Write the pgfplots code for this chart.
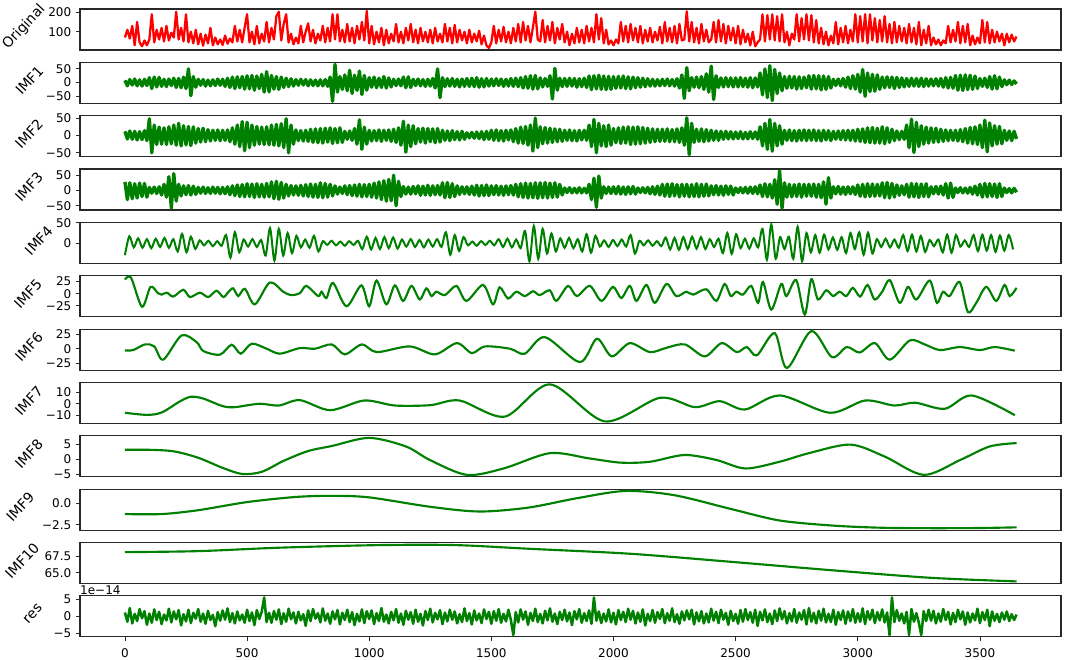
\documentclass[border=0pt]{standalone}
\usepackage{pgfplots}
\pgfplotsset{compat=1.18}
\usepgfplotslibrary{groupplots}
\usepackage{fontspec}
\setmainfont{DejaVu Sans}
\definecolor{mplgreen}{RGB}{0,128,0}
\definecolor{spine}{RGB}{40,40,40}

\pgfplotsset{
  imf/.style={mplgreen, line width=1.6pt, no markers, smooth},
  noisy/.style={mplgreen, line width=2.5pt, no markers, line join=round},
  lab/.style={ylabel style={at={(axis description cs:#1,0.56)}, anchor=center, rotate=-43,
      font=\fontsize{10.5}{12}\selectfont}},
}

\begin{document}
\begin{tikzpicture}
\begin{groupplot}[
  group style={group size=1 by 12, vertical sep=9.27pt},
  width=736pt, height=30.75pt, scale only axis,
  xmin=-184, xmax=3832,
  xtick=\empty,
  axis line style={spine, line width=0.8pt},
  tick align=outside, ytick pos=left, xtick pos=bottom,
  major tick length=3pt,
  tick style={spine, line width=0.6pt},
  every tick label/.append style={font=\fontsize{9}{10}\selectfont},
  xticklabel style={yshift=-2pt},
]

% Original
\nextgroupplot[ymin=6, ymax=217, ytick={100,200}, yticklabels={100,200}, ylabel={Original}, lab=-0.057]
\addplot[red, line width=1.7pt, no markers, line join=round] table[x expr=\coordindex*10, y index=0, row sep=\\, header=false] {
70\\ 110\\ 65\\ 130\\ 30\\ 150\\ 45\\ 25\\ 55\\ 30\\
60\\ 190\\ 45\\ 110\\ 60\\ 120\\ 50\\ 130\\ 55\\ 95\\
70\\ 203\\ 60\\ 120\\ 50\\ 190\\ 45\\ 100\\ 40\\ 110\\
35\\ 90\\ 28\\ 85\\ 40\\ 120\\ 30\\ 70\\ 35\\ 60\\
32\\ 80\\ 38\\ 65\\ 45\\ 130\\ 50\\ 110\\ 45\\ 120\\
190\\ 45\\ 100\\ 35\\ 130\\ 40\\ 90\\ 50\\ 150\\ 45\\
120\\ 60\\ 180\\ 203\\ 55\\ 140\\ 190\\ 45\\ 90\\ 35\\
70\\ 40\\ 130\\ 45\\ 100\\ 143\\ 50\\ 110\\ 40\\ 90\\
55\\ 130\\ 45\\ 120\\ 50\\ 190\\ 60\\ 190\\ 50\\ 110\\
45\\ 140\\ 50\\ 120\\ 40\\ 130\\ 60\\ 150\\ 55\\ 207\\
40\\ 130\\ 35\\ 100\\ 45\\ 120\\ 30\\ 110\\ 40\\ 90\\
50\\ 140\\ 45\\ 100\\ 40\\ 120\\ 55\\ 140\\ 45\\ 110\\
40\\ 120\\ 50\\ 100\\ 45\\ 110\\ 40\\ 120\\ 50\\ 90\\
45\\ 140\\ 50\\ 120\\ 40\\ 135\\ 45\\ 110\\ 55\\ 100\\
40\\ 110\\ 45\\ 90\\ 50\\ 105\\ 35\\ 80\\ 30\\ 16\\
45\\ 130\\ 40\\ 110\\ 50\\ 125\\ 45\\ 100\\ 40\\ 120\\
50\\ 140\\ 45\\ 150\\ 55\\ 130\\ 45\\ 120\\ 203\\ 60\\
50\\ 160\\ 45\\ 130\\ 55\\ 150\\ 40\\ 120\\ 60\\ 140\\
45\\ 100\\ 30\\ 90\\ 40\\ 120\\ 45\\ 110\\ 40\\ 130\\
50\\ 120\\ 45\\ 190\\ 60\\ 170\\ 40\\ 110\\ 35\\ 55\\
30\\ 60\\ 40\\ 150\\ 50\\ 130\\ 45\\ 140\\ 55\\ 120\\
45\\ 130\\ 40\\ 110\\ 50\\ 120\\ 45\\ 100\\ 55\\ 125\\
40\\ 150\\ 50\\ 120\\ 45\\ 130\\ 40\\ 140\\ 55\\ 60\\
205\\ 50\\ 150\\ 45\\ 120\\ 40\\ 140\\ 50\\ 110\\ 45\\
60\\ 150\\ 45\\ 160\\ 50\\ 140\\ 40\\ 130\\ 55\\ 120\\
40\\ 130\\ 35\\ 110\\ 45\\ 90\\ 30\\ 100\\ 25\\ 45\\
60\\ 190\\ 50\\ 185\\ 60\\ 190\\ 55\\ 180\\ 50\\ 190\\
45\\ 100\\ 30\\ 90\\ 60\\ 190\\ 50\\ 170\\ 60\\ 190\\
55\\ 185\\ 45\\ 160\\ 40\\ 120\\ 35\\ 100\\ 30\\ 80\\
40\\ 150\\ 35\\ 120\\ 45\\ 130\\ 40\\ 110\\ 50\\ 190\\
45\\ 180\\ 50\\ 190\\ 40\\ 190\\ 55\\ 170\\ 45\\ 160\\
50\\ 180\\ 45\\ 140\\ 40\\ 150\\ 45\\ 130\\ 50\\ 120\\
40\\ 140\\ 45\\ 120\\ 35\\ 150\\ 30\\ 110\\ 40\\ 130\\
30\\ 70\\ 35\\ 60\\ 30\\ 55\\ 40\\ 130\\ 45\\ 110\\
50\\ 150\\ 40\\ 130\\ 45\\ 140\\ 30\\ 80\\ 35\\ 70\\
40\\ 160\\ 45\\ 150\\ 40\\ 110\\ 45\\ 100\\ 50\\ 90\\
30\\ 90\\ 45\\ 85\\ 50\\ 75\\
};

% IMF1
\nextgroupplot[ymin=-76, ymax=74, ytick={-50,0,50}, yticklabels={−50,0,50}, ylabel={IMF1}, lab=-0.0516]
\addplot[noisy] table[x expr=\coordindex*10, y index=0, row sep=\\, header=false] {
8\\ -12\\ 11\\ -9\\ 13\\ -12\\ 10\\ -13\\ 12\\ -11\\
18\\ -22\\ 20\\ -16\\ 19\\ -14\\ 12\\ -15\\ 13\\ -11\\
16\\ -18\\ 15\\ -19\\ 20\\ -22\\ 50\\ -48\\ 22\\ -17\\
12\\ -10\\ 11\\ -13\\ 9\\ -12\\ 10\\ -11\\ 13\\ -10\\
12\\ -14\\ 16\\ -18\\ 20\\ -22\\ 21\\ -19\\ 22\\ -24\\
25\\ -23\\ 26\\ -28\\ 24\\ -22\\ 30\\ -35\\ 40\\ -34\\
26\\ -24\\ 22\\ -25\\ 20\\ -18\\ 16\\ -15\\ 14\\ -13\\
11\\ -10\\ 12\\ -9\\ 11\\ -12\\ 10\\ -11\\ 9\\ -12\\
10\\ -12\\ 11\\ -14\\ 20\\ -69\\ 67\\ -35\\ 22\\ -25\\
28\\ -30\\ 45\\ -40\\ 27\\ -29\\ 42\\ -44\\ 26\\ -28\\
18\\ -17\\ 20\\ -19\\ 16\\ -18\\ 22\\ -20\\ 17\\ -16\\
12\\ -11\\ 13\\ -12\\ 20\\ -19\\ 21\\ -18\\ 12\\ -11\\
13\\ -12\\ 11\\ -14\\ 12\\ -13\\ 15\\ -20\\ 50\\ -55\\
18\\ -15\\ 14\\ -13\\ 15\\ -14\\ 12\\ -16\\ 13\\ -14\\
15\\ -14\\ 16\\ -15\\ 18\\ -17\\ 14\\ -16\\ 15\\ -13\\
13\\ -12\\ 14\\ -11\\ 13\\ -14\\ 12\\ -13\\ 15\\ -14\\
16\\ -15\\ 18\\ -20\\ 22\\ -21\\ 25\\ -24\\ 26\\ -23\\
17\\ -16\\ 15\\ -14\\ 25\\ -60\\ 52\\ -28\\ 16\\ -15\\
15\\ -14\\ 16\\ -13\\ 15\\ -17\\ 14\\ -15\\ 16\\ -18\\
24\\ -26\\ 25\\ -23\\ 27\\ -25\\ 24\\ -26\\ 23\\ -25\\
22\\ -21\\ 23\\ -20\\ 24\\ -22\\ 21\\ -23\\ 20\\ -19\\
18\\ -17\\ 16\\ -15\\ 14\\ -13\\ 12\\ -13\\ 11\\ -12\\
12\\ -11\\ 13\\ -12\\ 11\\ -13\\ 14\\ -20\\ 28\\ -58\\
55\\ -30\\ 18\\ -17\\ 20\\ -19\\ 22\\ -25\\ 32\\ -35\\
60\\ -62\\ 25\\ -18\\ 17\\ -16\\ 18\\ -15\\ 17\\ -16\\
17\\ -16\\ 18\\ -15\\ 16\\ -17\\ 18\\ -19\\ 17\\ -16\\
35\\ -45\\ 50\\ -55\\ 62\\ -66\\ 48\\ -40\\ 35\\ -30\\
22\\ -21\\ 23\\ -20\\ 22\\ -24\\ 21\\ -22\\ 20\\ -19\\
25\\ -24\\ 26\\ -23\\ 25\\ -27\\ 24\\ -25\\ 22\\ -20\\
12\\ -11\\ 13\\ -12\\ 15\\ -17\\ 20\\ -22\\ 25\\ -24\\
30\\ -35\\ 48\\ -50\\ 35\\ -33\\ 30\\ -32\\ 28\\ -25\\
20\\ -19\\ 21\\ -18\\ 20\\ -22\\ 19\\ -18\\ 17\\ -16\\
15\\ -14\\ 16\\ -13\\ 15\\ -14\\ 16\\ -15\\ 14\\ -13\\
13\\ -12\\ 14\\ -13\\ 15\\ -17\\ 18\\ -20\\ 19\\ -21\\
26\\ -28\\ 27\\ -29\\ 28\\ -26\\ 27\\ -25\\ 24\\ -22\\
15\\ -14\\ 16\\ -18\\ 22\\ -24\\ 25\\ -23\\ 20\\ -15\\
10\\ -8\\ 9\\ -7\\ 6\\ -5\\
};

% IMF2
\nextgroupplot[ymin=-61, ymax=57, ytick={-50,0,50}, yticklabels={−50,0,50}, ylabel={IMF2}, lab=-0.052]
\addplot[noisy] table[x expr=\coordindex*10, y index=0, row sep=\\, header=false] {
12\\ -10\\ 13\\ -11\\ 12\\ -13\\ 11\\ -12\\ 14\\ -15\\
48\\ -50\\ 30\\ -26\\ 24\\ -25\\ 22\\ -26\\ 25\\ -24\\
30\\ -28\\ 35\\ -30\\ 28\\ -27\\ 26\\ -29\\ 25\\ -22\\
20\\ -19\\ 21\\ -18\\ 17\\ -16\\ 15\\ -14\\ 16\\ -15\\
15\\ -14\\ 16\\ -18\\ 22\\ -25\\ 30\\ -32\\ 40\\ -44\\
38\\ -35\\ 30\\ -28\\ 26\\ -25\\ 24\\ -26\\ 25\\ -27\\
30\\ -28\\ 32\\ -30\\ 34\\ -35\\ 48\\ -50\\ 30\\ -25\\
16\\ -15\\ 14\\ -16\\ 15\\ -17\\ 18\\ -20\\ 19\\ -21\\
20\\ -22\\ 21\\ -19\\ 22\\ -23\\ 20\\ -21\\ 22\\ -20\\
12\\ -11\\ 13\\ -14\\ 20\\ -25\\ 45\\ -40\\ 24\\ -25\\
15\\ -16\\ 14\\ -15\\ 16\\ -17\\ 15\\ -14\\ 16\\ -17\\
18\\ -20\\ 22\\ -28\\ 41\\ -48\\ 30\\ -32\\ 28\\ -24\\
20\\ -19\\ 21\\ -22\\ 20\\ -18\\ 19\\ -21\\ 20\\ -19\\
15\\ -14\\ 13\\ -15\\ 14\\ -12\\ 11\\ -13\\ 12\\ -11\\
8\\ -7\\ 9\\ -8\\ 10\\ -9\\ 11\\ -12\\ 12\\ -11\\
15\\ -14\\ 16\\ -15\\ 14\\ -16\\ 15\\ -13\\ 16\\ -18\\
20\\ -22\\ 24\\ -23\\ 26\\ -28\\ 30\\ -45\\ 50\\ -35\\
25\\ -24\\ 23\\ -22\\ 21\\ -20\\ 19\\ -18\\ 18\\ -17\\
15\\ -14\\ 16\\ -15\\ 14\\ -16\\ 15\\ -13\\ 15\\ -14\\
30\\ -32\\ 46\\ -50\\ 35\\ -30\\ 28\\ -32\\ 30\\ -28\\
20\\ -21\\ 22\\ -23\\ 24\\ -22\\ 25\\ -26\\ 24\\ -25\\
25\\ -24\\ 23\\ -22\\ 21\\ -20\\ 19\\ -18\\ 18\\ -17\\
18\\ -17\\ 19\\ -18\\ 17\\ -18\\ 19\\ -20\\ 22\\ -28\\
51\\ -55\\ 35\\ -20\\ 18\\ -17\\ 19\\ -18\\ 17\\ -16\\
15\\ -14\\ 13\\ -14\\ 12\\ -11\\ 12\\ -10\\ 11\\ -10\\
10\\ -9\\ 11\\ -10\\ 9\\ -10\\ 11\\ -9\\ 10\\ -11\\
25\\ -30\\ 35\\ -40\\ 46\\ -45\\ 35\\ -30\\ 28\\ -25\\
15\\ -14\\ 16\\ -15\\ 14\\ -16\\ 15\\ -14\\ 16\\ -15\\
15\\ -14\\ 16\\ -15\\ 14\\ -16\\ 15\\ -13\\ 14\\ -15\\
12\\ -11\\ 13\\ -12\\ 14\\ -13\\ 15\\ -14\\ 15\\ -16\\
18\\ -17\\ 19\\ -20\\ 22\\ -21\\ 23\\ -22\\ 21\\ -22\\
25\\ -24\\ 22\\ -20\\ 18\\ -15\\ 13\\ -12\\ 12\\ -11\\
30\\ -35\\ 47\\ -49\\ 38\\ -32\\ 28\\ -25\\ 24\\ -22\\
22\\ -20\\ 21\\ -19\\ 18\\ -17\\ 16\\ -15\\ 15\\ -14\\
15\\ -16\\ 17\\ -18\\ 20\\ -22\\ 23\\ -24\\ 25\\ -26\\
30\\ -35\\ 44\\ -47\\ 36\\ -30\\ 28\\ -25\\ 26\\ -24\\
15\\ -14\\ 13\\ -15\\ 12\\ -10\\
};

% IMF3
\nextgroupplot[ymin=-64, ymax=70, ytick={-50,0,50}, yticklabels={−50,0,50}, ylabel={IMF3}, lab=-0.052]
\addplot[noisy] table[x expr=\coordindex*10, y index=0, row sep=\\, header=false] {
28\\ -30\\ 25\\ -27\\ 22\\ -25\\ 24\\ -20\\ 23\\ -22\\
10\\ -9\\ 11\\ -10\\ 12\\ -15\\ 20\\ -22\\ 45\\ -58\\
55\\ -35\\ 20\\ -18\\ 15\\ -14\\ 16\\ -15\\ 14\\ -13\\
10\\ -9\\ 11\\ -10\\ 9\\ -10\\ 11\\ -9\\ 10\\ -11\\
10\\ -11\\ 12\\ -14\\ 15\\ -17\\ 18\\ -20\\ 19\\ -21\\
22\\ -20\\ 21\\ -23\\ 22\\ -21\\ 20\\ -22\\ 23\\ -21\\
28\\ -27\\ 30\\ -29\\ 26\\ -25\\ 20\\ -18\\ 16\\ -15\\
15\\ -16\\ 17\\ -18\\ 19\\ -20\\ 21\\ -22\\ 20\\ -23\\
25\\ -24\\ 23\\ -22\\ 20\\ -18\\ 15\\ -12\\ 11\\ -10\\
15\\ -14\\ 16\\ -17\\ 18\\ -19\\ 20\\ -21\\ 19\\ -20\\
20\\ -22\\ 24\\ -25\\ 28\\ -30\\ 32\\ -35\\ 36\\ -34\\
50\\ -50\\ 30\\ -20\\ 13\\ -12\\ 11\\ -12\\ 13\\ -11\\
15\\ -16\\ 14\\ -15\\ 17\\ -16\\ 15\\ -14\\ 16\\ -15\\
25\\ -24\\ 26\\ -23\\ 22\\ -20\\ 15\\ -13\\ 12\\ -11\\
12\\ -13\\ 14\\ -15\\ 17\\ -18\\ 16\\ -17\\ 18\\ -17\\
15\\ -14\\ 16\\ -15\\ 14\\ -16\\ 15\\ -14\\ 16\\ -15\\
20\\ -21\\ 22\\ -23\\ 24\\ -25\\ 23\\ -24\\ 25\\ -26\\
25\\ -24\\ 26\\ -25\\ 24\\ -23\\ 25\\ -22\\ 20\\ -15\\
8\\ -7\\ 9\\ -8\\ 7\\ -8\\ 9\\ -8\\ 7\\ -8\\
20\\ -30\\ 40\\ -55\\ 47\\ -25\\ 12\\ -10\\ 11\\ -10\\
12\\ -11\\ 13\\ -12\\ 11\\ -13\\ 12\\ -11\\ 13\\ -12\\
8\\ -7\\ 9\\ -8\\ 10\\ -11\\ 12\\ -13\\ 14\\ -15\\
20\\ -19\\ 21\\ -20\\ 22\\ -18\\ 19\\ -21\\ 20\\ -19\\
20\\ -21\\ 19\\ -20\\ 22\\ -21\\ 20\\ -19\\ 21\\ -18\\
15\\ -14\\ 16\\ -15\\ 14\\ -16\\ 15\\ -13\\ 14\\ -15\\
8\\ -7\\ 9\\ -8\\ 10\\ -9\\ 11\\ -10\\ 12\\ -11\\
18\\ -20\\ 22\\ -21\\ 20\\ -25\\ 35\\ -45\\ 64\\ -58\\
25\\ -22\\ 20\\ -21\\ 19\\ -20\\ 21\\ -22\\ 20\\ -19\\
20\\ -19\\ 21\\ -22\\ 20\\ -24\\ 28\\ -45\\ 42\\ -25\\
12\\ -11\\ 13\\ -12\\ 11\\ -13\\ 12\\ -11\\ 12\\ -13\\
18\\ -19\\ 20\\ -21\\ 22\\ -20\\ 21\\ -19\\ 20\\ -18\\
25\\ -24\\ 26\\ -25\\ 23\\ -22\\ 18\\ -16\\ 15\\ -14\\
20\\ -22\\ 23\\ -21\\ 22\\ -23\\ 21\\ -20\\ 22\\ -21\\
12\\ -11\\ 13\\ -12\\ 14\\ -15\\ 22\\ -25\\ 24\\ -23\\
8\\ -7\\ 9\\ -8\\ 8\\ -9\\ 10\\ -12\\ 14\\ -15\\
20\\ -22\\ 23\\ -21\\ 22\\ -20\\ 21\\ -23\\ 22\\ -20\\
8\\ -7\\ 6\\ -8\\ 7\\ -6\\
};

% IMF4
\nextgroupplot[ymin=-49, ymax=51, ytick={0,50}, yticklabels={0,50}, ylabel={IMF4}, lab=-0.042]
\addplot[imf, line width=1.5pt] table[x expr=\coordindex*18, y index=0, row sep=\\, header=false] {
-29\\ 17\\ -10\\ 12\\ -11\\ 10\\ -12\\ 11\\ -9\\ 13\\
-11\\ 10\\ -20\\ 23\\ -22\\ 16\\ -14\\ 7\\ -5\\ 6\\
-7\\ 5\\ -6\\ 20\\ -35\\ 27\\ -22\\ 9\\ -8\\ 10\\
-9\\ 8\\ -30\\ 37\\ -42\\ 35\\ -30\\ 25\\ -24\\ 18\\
-10\\ 9\\ -11\\ 18\\ -20\\ 5\\ -4\\ 6\\ -5\\ 4\\
-6\\ 5\\ -4\\ 6\\ -14\\ 16\\ -15\\ 13\\ -14\\ 15\\
-12\\ 14\\ -13\\ 9\\ -8\\ 10\\ -9\\ 8\\ -10\\ 9\\
-8\\ 10\\ -9\\ 27\\ -28\\ 20\\ -19\\ 15\\ -5\\ 4\\
-6\\ 5\\ -4\\ 6\\ -5\\ 10\\ -9\\ 11\\ -10\\ 9\\
-12\\ 30\\ -44\\ 42\\ -38\\ 35\\ -25\\ 24\\ -20\\ 12\\
-11\\ 13\\ -12\\ 10\\ -20\\ 22\\ -23\\ 18\\ -8\\ 7\\
-9\\ 8\\ -7\\ 9\\ -8\\ 20\\ -25\\ 6\\ -5\\ 7\\
-6\\ 5\\ -7\\ 14\\ -15\\ 13\\ -16\\ 15\\ -14\\ 16\\
-13\\ 15\\ -14\\ 10\\ -9\\ 11\\ -24\\ 25\\ -26\\ 22\\
-12\\ 11\\ -13\\ 12\\ -10\\ 35\\ -40\\ 46\\ -38\\ 15\\
-14\\ 16\\ -38\\ 40\\ -44\\ 25\\ -22\\ 20\\ -23\\ 21\\
-15\\ 14\\ -16\\ 15\\ -24\\ 25\\ -14\\ 27\\ -28\\ 26\\
-25\\ 10\\ -9\\ 11\\ -10\\ 9\\ -11\\ 20\\ -19\\ 21\\
-20\\ 18\\ -21\\ 8\\ -7\\ 9\\ -22\\ 21\\ -23\\ 20\\
-8\\ 7\\ -9\\ 20\\ -19\\ 21\\ -18\\ 20\\ -21\\ 19\\
-18\\ 20\\ -15\\
};

% IMF5
\nextgroupplot[ymin=-47.5, ymax=37, ytick={-25,0,25}, yticklabels={−25,0,25}, ylabel={IMF5}, lab=-0.053]
\addplot[imf] coordinates {
(0,29) (25,33) (70,-27) (105,14) (135,1) (150,-2) (172,2) (198,-6) (239,8) (266,-7)
(307,2) (341,-7) (375,6) (403,-7) (423,3) (443,11) (464,-5) (491,10) (532,-22) (593,23)
(648,4) (680,-3) (716,1) (743,16) (791,-5) (805,4) (825,-9) (852,22) (907,-26) (968,17)
(1000,-26) (1030,27) (1070,-22) (1105,17) (1139,-15) (1173,16) (1207,-12) (1234,11) (1255,-5) (1275,4)
(1310,-3) (1357,16) (1398,-15) (1466,18) (1507,-22) (1534,13) (1568,-10) (1602,4) (1637,-5) (1671,5)
(1698,-3) (1739,7) (1766,-15) (1814,16) (1850,-5) (1903,16) (1951,-15) (1998,14) (2032,-9) (2067,16)
(2094,-15) (2135,18) (2169,-19) (2217,20) (2257,-5) (2298,4) (2326,-2) (2380,9) (2421,-15) (2455,20)
(2480,-5) (2503,4) (2530,-2) (2564,16) (2592,-19) (2612,24) (2646,-33) (2687,20) (2708,-5) (2748,28)
(2783,-43) (2810,30) (2837,-12) (2871,7) (2899,-5) (2926,4) (2953,-5) (2980,12) (3010,-6) (3040,18)
(3069,-12) (3100,4) (3131,28) (3172,-19) (3206,14) (3240,-12) (3294,27) (3324,-19) (3349,4) (3376,-5)
(3417,24) (3451,-38) (3485,-19) (3526,14) (3567,-15) (3601,18) (3622,-5) (3650,12)
};

% IMF6
\nextgroupplot[ymin=-36.4, ymax=33.5, ytick={-25,0,25}, yticklabels={−25,0,25}, ylabel={IMF6}, lab=-0.052]
\addplot[imf] coordinates {
(0,-2.9) (34,-2.3) (82,7.3) (120,4) (157,-18.7) (232,22.7) (294,11) (321,-4) (389,-10.2) (437,6.8)
(474,-8.5) (519,8.5) (580,0) (634,-8.5) (716,1) (778,0) (847,7.3) (900,-9.7) (970,7.3) (1031,-5.8)
(1166,3.9) (1269,-9.7) (1359,9.5) (1420,-7.5) (1474,3.9) (1576,0) (1637,-8.5) (1719,19.8) (1862,-22.8) (1932,17)
(1993,-13.1) (2067,9.5) (2149,-5.8) (2218,1.7) (2292,7.3) (2374,-13.1) (2443,9.5) (2505,-5.8) (2546,2.8) (2587,-11.3)
(2660,26.6) (2710,-33) (2810,30) (2894,-14.3) (2955,2.8) (3008,-6.5) (3070,9.5) (3131,-18.7) (3213,14.1) (3274,7.3)
(3336,-2.3) (3418,2.8) (3500,-2.3) (3561,2.8) (3643,-3.4)
};

% IMF7
\nextgroupplot[ymin=-16.8, ymax=18.3, ytick={-10,0,10}, yticklabels={−10,0,10}, ylabel={IMF7}, lab=-0.052]
\addplot[imf] coordinates {
(0,-7.7) (90,-9.5) (150,-7.5) (225,2) (270,6.0) (320,4.5) (400,-2) (450,-2.9) (550,0) (630,-1.5)
(716,3.1) (840,-5.5) (980,2.8) (1105,-1.5) (1250,-1.2) (1370,2.8) (1555,-11) (1740,16.6) (1965,-15.1) (2190,5.1)
(2333,-2.9) (2435,2.2) (2538,-4.9) (2681,7.1) (2886,-7.7) (3030,2.8) (3150,-1.5) (3235,0.9) (3356,-4.3) (3467,7.1)
(3643,-9.8)
};

% IMF8
\nextgroupplot[ymin=-5.7, ymax=7.7, ytick={-5,0,5}, yticklabels={−5,0,5}, ylabel={IMF8}, lab=-0.052]
\addplot[imf] coordinates {
(0,3.1) (100,3.1) (200,2.6) (300,0.5) (400,-2.8) (480,-4.8) (560,-4.1) (650,-0.5) (750,2.7) (850,4.4)
(1000,7.0) (1150,4.2) (1250,-0.3) (1400,-5.1) (1550,-3.0) (1740,2.0) (1900,0.3) (2030,-1.1) (2150,-0.8) (2290,1.4)
(2420,-0.2) (2540,-3.0) (2680,-0.8) (2800,2.0) (2970,4.8) (3110,0.9) (3270,-5.1) (3420,-0.2) (3540,4.2) (3650,5.3)
};

% IMF9
\nextgroupplot[ymin=-3.12, ymax=1.67, ytick={-2.5,0}, yticklabels={−2.5,0.0}, ylabel={IMF9}, lab=-0.061]
\addplot[imf] coordinates {
(0,-1.25) (150,-1.25) (300,-0.8) (500,0.15) (700,0.75) (850,0.88) (1000,0.7) (1250,-0.4) (1450,-0.95) (1650,-0.5)
(1850,0.6) (2050,1.45) (2250,0.95) (2480,-0.65) (2680,-2.0) (2900,-2.6) (3100,-2.85) (3300,-2.9) (3500,-2.88) (3650,-2.8)
};

% IMF10
\nextgroupplot[ymin=63.4, ymax=69.56, ytick={65,67.5}, yticklabels={65.0,67.5}, ylabel={IMF10}, lab=-0.059]
\addplot[imf] coordinates {
(0,68.1) (300,68.25) (634,68.77) (1044,69.16) (1351,69.16) (1658,68.6) (2067,67.86) (2476,66.66) (2886,65.4) (3295,64.25)
(3650,63.7)
};

% res
\nextgroupplot[ymin=-5.9, ymax=6.1, ytick={-5,0,5}, yticklabels={−5,0,5}, ylabel={res}, lab=-0.048,
  xtick={0,500,1000,1500,2000,2500,3000,3500},
  xticklabels={0,500,1000,1500,2000,2500,3000,3500}]
\addplot[noisy, line width=1.9pt] table[x expr=\coordindex*10, y index=0, row sep=\\, header=false] {
1.2\\ -1.5\\ 2.5\\ -2.0\\ 0.8\\ -1.3\\ 2.2\\ -0.5\\ 1.6\\ -2.4\\
0.9\\ -1.8\\ 2.1\\ -1.0\\ 1.4\\ -2.2\\ 0.6\\ -1.1\\ 2.3\\ -1.7\\
1.5\\ -0.8\\ 1.9\\ -2.6\\ 0.7\\ -1.4\\ 2.0\\ -1.9\\ 1.1\\ -0.6\\
2.2\\ -1.5\\ 0.9\\ -2.1\\ 1.7\\ -1.0\\ 0.5\\ -2.8\\ 1.3\\ -1.2\\
1.8\\ -0.9\\ 2.4\\ -1.6\\ 1.0\\ -2.0\\ 1.5\\ -1.1\\ 0.6\\ -1.8\\
2.0\\ -1.3\\ 1.2\\ -2.5\\ 1.9\\ -0.7\\ 1.4\\ 5.6\\ -1.6\\ 1.1\\
-1.8\\ 1.6\\ -0.9\\ 2.1\\ -2.2\\ 1.0\\ -1.5\\ 2.3\\ -0.8\\ 1.2\\
-2.0\\ 1.4\\ -1.1\\ 0.7\\ -2.7\\ 1.8\\ -1.3\\ 2.2\\ -0.6\\ 1.0\\
-1.7\\ 2.4\\ -1.2\\ 0.9\\ -2.1\\ 1.5\\ -0.8\\ 1.9\\ -2.3\\ 1.1\\
-1.0\\ 2.0\\ -1.6\\ 1.3\\ -2.5\\ 0.8\\ -1.4\\ 2.1\\ -1.9\\ 1.6\\
-0.7\\ 1.8\\ -2.2\\ 1.0\\ -1.3\\ 2.5\\ -1.5\\ 0.6\\ -2.0\\ 1.4\\
-1.1\\ 2.2\\ -1.8\\ 0.9\\ -2.4\\ 1.7\\ -0.9\\ 1.3\\ -2.1\\ 2.0\\
-1.5\\ 0.8\\ -2.6\\ 1.6\\ -1.0\\ 2.3\\ -1.7\\ 1.1\\ -0.8\\ 1.9\\
-2.2\\ 1.2\\ -1.4\\ 2.0\\ -0.9\\ 1.5\\ -2.0\\ 0.7\\ -1.6\\ 2.4\\
-1.3\\ 1.0\\ -2.3\\ 1.8\\ -1.1\\ 0.9\\ -1.9\\ 2.1\\ -0.7\\ 1.4\\
-2.1\\ 1.6\\ -1.2\\ 2.2\\ -1.8\\ 0.8\\ -1.4\\ 2.0\\ -1.0\\ -5.4\\
1.3\\ -1.7\\ 2.1\\ -0.9\\ 1.5\\ -2.4\\ 1.1\\ -1.3\\ 2.3\\ -1.6\\
0.8\\ -2.0\\ 1.7\\ -1.1\\ 2.4\\ -1.5\\ 0.9\\ -2.2\\ 1.4\\ -1.0\\
2.0\\ -1.4\\ 1.2\\ -2.5\\ 1.6\\ -0.8\\ 2.2\\ -1.8\\ 1.0\\ -1.3\\
1.8\\ -2.1\\ 5.6\\ -1.2\\ 1.5\\ -1.9\\ 0.9\\ -1.4\\ 2.1\\ -1.7\\
1.1\\ -2.3\\ 1.9\\ -1.0\\ 1.4\\ -1.6\\ 2.3\\ -0.9\\ 1.7\\ -2.0\\
1.2\\ -1.5\\ 2.1\\ -2.6\\ 0.8\\ -1.3\\ 1.9\\ -1.8\\ 1.3\\ -0.7\\
2.2\\ -1.9\\ 1.0\\ -1.2\\ 2.4\\ -1.6\\ 0.7\\ -2.1\\ 1.5\\ -1.1\\
1.8\\ -0.8\\ 2.0\\ -2.3\\ 1.2\\ -1.4\\ 1.6\\ -2.0\\ 0.9\\ -1.7\\
2.3\\ -1.2\\ 1.4\\ -1.9\\ 2.0\\ -0.9\\ 1.1\\ -2.4\\ 1.7\\ -1.3\\
0.8\\ -2.1\\ 1.9\\ -1.5\\ 2.2\\ -1.0\\ 1.3\\ -1.8\\ 2.0\\ -2.7\\
1.4\\ -1.1\\ 2.1\\ -1.6\\ 0.9\\ -2.2\\ 1.8\\ -1.3\\ 2.4\\ -0.8\\
1.6\\ -2.0\\ 1.0\\ -1.4\\ 2.2\\ -1.8\\ 1.2\\ -0.9\\ 1.9\\ -2.3\\
2.5\\ -1.5\\ 1.1\\ -2.0\\ 1.7\\ -1.2\\ 2.3\\ -1.7\\ 0.8\\ -1.6\\
2.0\\ -2.4\\ 1.3\\ -1.0\\ 1.8\\ -2.1\\ 1.5\\ -1.3\\ 2.2\\ -1.8\\
1.0\\ -1.5\\ 2.4\\ -2.2\\ 1.6\\ -0.9\\ 2.0\\ -1.9\\ 1.3\\ -1.1\\
2.1\\ -1.7\\ 1.2\\ -5.4\\ 5.6\\ -1.6\\ 1.9\\ -1.2\\ 0.9\\ -2.0\\
1.4\\ -5.4\\ 2.2\\ -1.5\\ 1.0\\ -1.8\\ -5.4\\ 1.6\\ -1.3\\ 2.0\\
-1.2\\ 1.7\\ -2.0\\ 0.9\\ -1.5\\ 2.2\\ -1.0\\ 1.4\\ -2.3\\ 1.1\\
-1.6\\ 2.0\\ -0.8\\ 1.5\\ -2.4\\ 1.2\\ -1.7\\ 0.9\\ -1.1\\ 2.3\\
-1.9\\ 1.3\\ -1.0\\ 2.0\\ -2.8\\ 1.5\\ -1.2\\ 0.8\\ -1.6\\ 1.2\\
-0.9\\ 1.5\\ -1.3\\ 0.7\\ -1.0\\ 0.6\\
};
\end{groupplot}
\node[anchor=south west, inner sep=0pt, font=\fontsize{9}{10}\selectfont] at ([yshift=0.8pt]group c1r12.north west) {1e−14};
\pgfresetboundingbox
\path ([shift={(-60pt,6.75pt)}]group c1r1.north west) rectangle ([shift={(3pt,-17.25pt)}]group c1r12.south east);
\end{tikzpicture}
\end{document}
